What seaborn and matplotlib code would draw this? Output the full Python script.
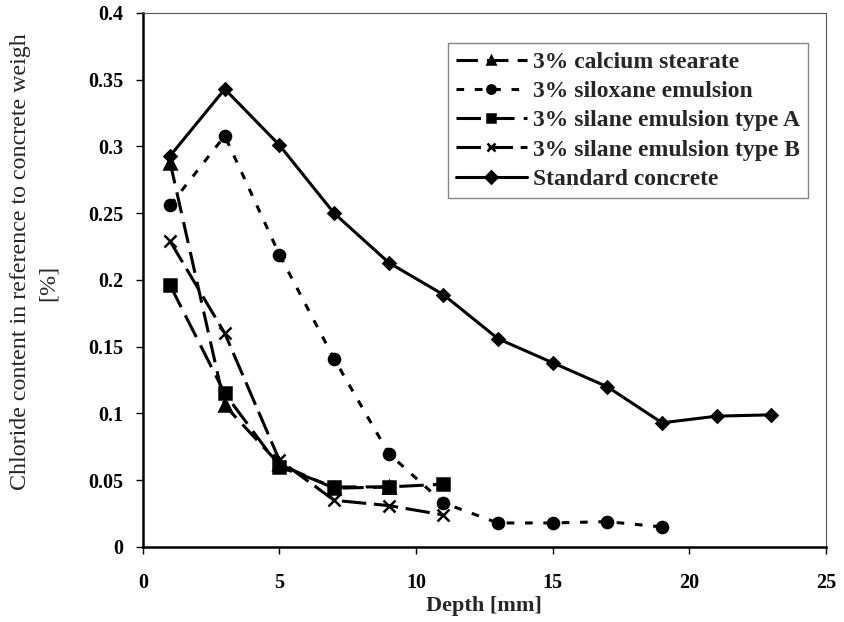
import numpy as np
import pandas as pd
import seaborn as sns
import matplotlib
matplotlib.use("Agg")
import matplotlib.pyplot as plt

sns.set_style("ticks")
plt.rcParams['font.family'] = ['Liberation Serif', 'DejaVu Serif']

# Chloride profiles (depth in mm, chloride content in % of concrete weight)
depth_calcium = [1, 3, 5, 7, 9]
chloride_calcium = [0.288, 0.106, 0.062, 0.044, 0.045]

depth_siloxane = [1, 3, 5, 7, 9, 11, 13, 15, 17, 19]
chloride_siloxane = [0.256, 0.308, 0.219, 0.141, 0.070, 0.033, 0.018, 0.018, 0.019, 0.015]

depth_silane_a = [1, 3, 5, 7, 9, 11]
chloride_silane_a = [0.196, 0.115, 0.060, 0.045, 0.045, 0.047]

depth_silane_b = [1, 3, 5, 7, 9, 11]
chloride_silane_b = [0.229, 0.160, 0.065, 0.035, 0.031, 0.024]

depth_standard = [1, 3, 5, 7, 9, 11, 13, 15, 17, 19, 21, 23]
chloride_standard = [0.293, 0.343, 0.301, 0.250, 0.213, 0.189, 0.156, 0.138, 0.120, 0.093, 0.098, 0.099]

series_names = ["3% calcium stearate", "3% siloxane emulsion",
                "3% silane emulsion type A", "3% silane emulsion type B",
                "Standard concrete"]
series_x = [depth_calcium, depth_siloxane, depth_silane_a, depth_silane_b, depth_standard]
series_y = [chloride_calcium, chloride_siloxane, chloride_silane_a, chloride_silane_b, chloride_standard]

line_styles = [
    dict(marker="^", linestyle=(0, (7, 3)), markersize=8),
    dict(marker="o", linestyle=(0, (2.5, 3.5)), markersize=8),
    dict(marker="s", linestyle=(0, (8, 3)), markersize=8),
    dict(marker="x", linestyle=(0, (8, 2.5)), markersize=9),
    dict(marker="D", linestyle="-", markersize=6.5),
]

fig = plt.figure(figsize=(8.45, 6.22), dpi=100)
ax = fig.add_axes([0.169, 0.1206, 0.8085, 0.8585])

for name, xs, ys, st in zip(series_names, series_x, series_y, line_styles):
    df = pd.DataFrame({"Depth": xs, "Chloride": ys})
    sns.lineplot(data=df, x="Depth", y="Chloride", ax=ax, color="black",
                 linewidth=2.2, markeredgewidth=1.8, markeredgecolor="black",
                 label=name, **st)

ax.set_xlim(0, 25)
ax.set_ylim(0, 0.4)
ax.set_xticks([0, 5, 10, 15, 20, 25])
ax.set_yticks([0, 0.05, 0.1, 0.15, 0.2, 0.25, 0.3, 0.35, 0.4])
ax.set_xticklabels(["0", "5", "10", "15", "20", "25"])
ax.set_yticklabels(["0", "0.05", "0.1", "0.15", "0.2", "0.25", "0.3", "0.35", "0.4"])
for lbl in ax.get_xticklabels() + ax.get_yticklabels():
    lbl.set_fontweight("bold")
    lbl.set_fontsize(14.5)
ax.tick_params(axis="both", direction="out", length=5, width=1, colors="black")
ax.tick_params(axis="y", pad=9)
ax.tick_params(axis="x", pad=14)

ax.set_xlabel("Depth [mm]", fontsize=16, fontweight="bold", labelpad=2)
ax.set_ylabel("Chloride content in reference to concrete weigh", fontsize=17.3)
ax.yaxis.set_label_coords(-0.163, 0.534)
ax.text(-0.139, 0.494, "[%]", transform=ax.transAxes, rotation=90,
        ha="center", va="center", fontsize=17.3)

for side in ["left", "bottom"]:
    ax.spines[side].set_linewidth(1.8)
    ax.spines[side].set_color("black")
for side in ["top", "right"]:
    ax.spines[side].set_visible(True)
    ax.spines[side].set_linewidth(0.8)
    ax.spines[side].set_color("#555555")

handles, labels = ax.get_legend_handles_labels()
leg = ax.legend(handles, labels, loc="upper right", bbox_to_anchor=(0.9737, 0.9438),
                frameon=True, fancybox=False, edgecolor="#666666",
                prop={"family": "Liberation Serif", "weight": "bold", "size": 17},
                handlelength=3.0, handletextpad=0.25, borderpad=0.35,
                labelspacing=0.33, borderaxespad=0)
leg.get_frame().set_linewidth(1.0)
for h in leg.get_lines():
    h.set_markersize(6)

fig.savefig("out.png", dpi=100)
